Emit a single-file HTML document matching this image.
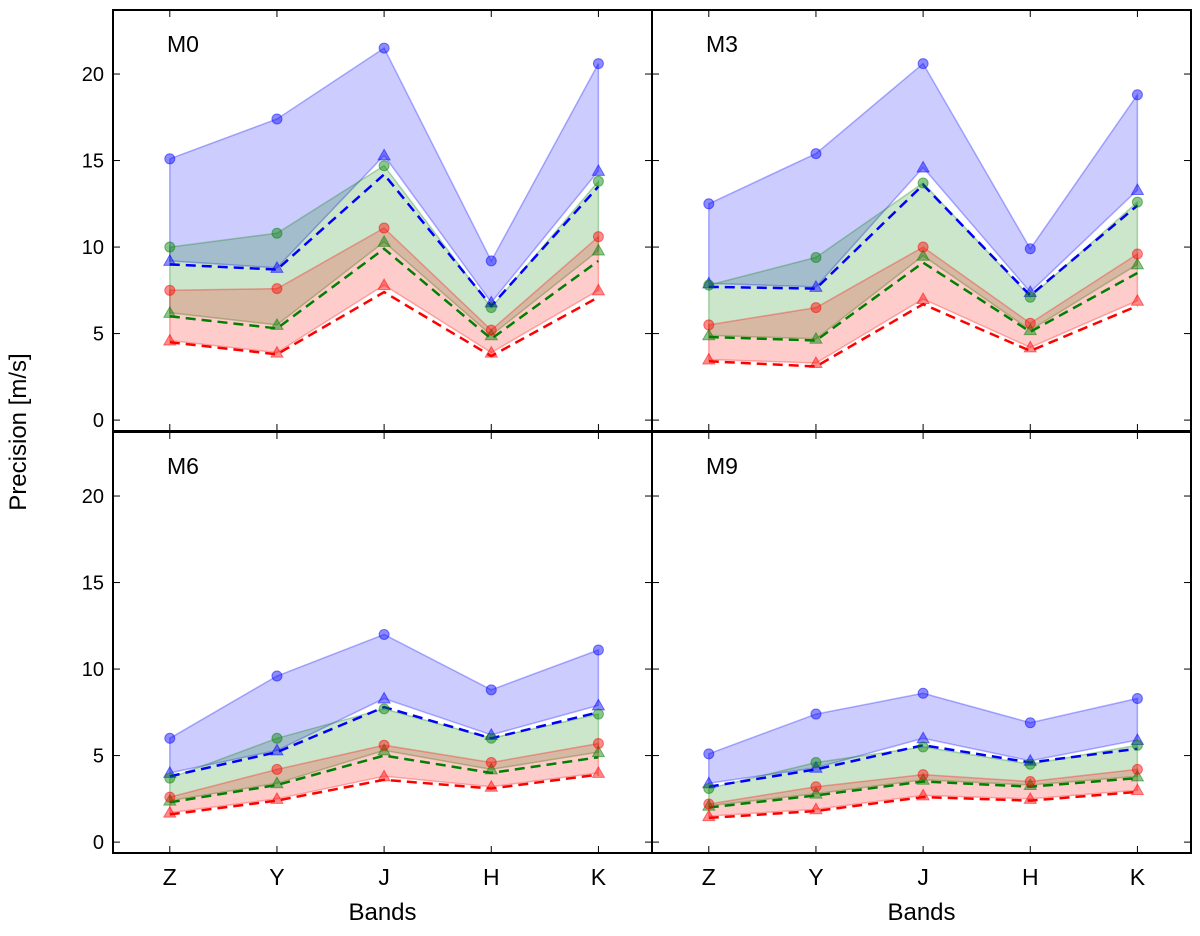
<!DOCTYPE html>
<html><head><meta charset="utf-8"><style>
body{margin:0;background:#fff}
svg text{font-family:"Liberation Sans",sans-serif;fill:#000}
</style></head><body>
<svg id="chart" width="1200" height="931" viewBox="0 0 1200 931" xmlns="http://www.w3.org/2000/svg"></svg>
<script>
const bands = ["Z","Y","J","H","K"];
const yTicks = [0,5,10,15,20];
const panelNames = ["M0","M3","M6","M9"];
const blueCirc = [[15.1,17.4,21.5,9.2,20.6],[12.5,15.4,20.6,9.9,18.8],[6.0,9.6,12.0,8.8,11.1],[5.1,7.4,8.6,6.9,8.3]];
const blueTri  = [[9.2,8.8,15.3,6.8,14.4],[7.9,7.7,14.6,7.4,13.3],[4.0,5.3,8.3,6.2,7.9],[3.4,4.3,6.0,4.7,5.9]];
const blueDash = [[9.0,8.7,14.2,6.6,13.5],[7.7,7.6,13.6,7.2,12.4],[3.8,5.2,7.8,6.0,7.5],[3.2,4.2,5.6,4.6,5.4]];
const greenCirc= [[10.0,10.8,14.7,6.5,13.8],[7.8,9.4,13.7,7.1,12.6],[3.7,6.0,7.7,6.0,7.4],[3.1,4.6,5.5,4.5,5.6]];
const greenTri = [[6.2,5.5,10.3,4.9,9.8],[4.9,4.7,9.5,5.2,9.0],[2.4,3.4,5.3,4.2,5.2],[2.1,2.8,3.6,3.3,3.8]];
const greenDash= [[6.0,5.3,9.9,4.7,9.2],[4.8,4.6,9.1,5.1,8.5],[2.3,3.3,5.0,4.0,4.9],[2.0,2.7,3.5,3.2,3.7]];
const redCirc  = [[7.5,7.6,11.1,5.2,10.6],[5.5,6.5,10.0,5.6,9.6],[2.6,4.2,5.6,4.6,5.7],[2.2,3.2,3.9,3.5,4.2]];
const redTri   = [[4.6,3.9,7.8,3.9,7.5],[3.5,3.3,7.0,4.2,6.9],[1.7,2.5,3.8,3.2,4.0],[1.5,1.9,2.7,2.5,3.0]];
const redDash  = [[4.5,3.8,7.4,3.7,7.1],[3.4,3.1,6.7,4.0,6.6],[1.6,2.4,3.6,3.1,3.9],[1.4,1.8,2.6,2.4,2.9]];

const NS="http://www.w3.org/2000/svg";
const svg=document.getElementById('chart');
function mk(tag,attrs,parent){const e=document.createElementNS(NS,tag);for(const k in attrs)e.setAttribute(k,attrs[k]);(parent||svg).appendChild(e);return e;}
const PX=[113,652], PW=539, PY=[10,432], PH=421;
const XMIN=-0.53, XMAX=4.5, YMIN=-0.63, YMAX=23.7;
const cols={b:"#0000ff",g:"#008000",r:"#ff0000"};

panelNames.forEach((nm,p)=>{
  const ox=PX[p%2], oy=PY[Math.floor(p/2)];
  const g=mk('g',{});
  
  
  const sx=i=>ox+(i-XMIN)/(XMAX-XMIN)*PW;
  const sy=v=>oy+PH-(v-YMIN)/(YMAX-YMIN)*PH;
  const pts=a=>a.map((v,i)=>sx(i).toFixed(1)+','+sy(v).toFixed(1));
  function fill(top,bot,c,name){
    const poly=mk('polygon',{points:pts(top).concat(pts(bot).reverse()).join(' '),fill:c,'fill-opacity':0.2,stroke:c,'stroke-opacity':0.3,'stroke-width':1.5},g);
    
    
  }
  fill(blueCirc[p],blueTri[p],cols.b,'blue-band');
  fill(greenCirc[p],greenTri[p],cols.g,'green-band');
  fill(redCirc[p],redTri[p],cols.r,'red-band');
  function dash(a,c,name){
    const l=mk('polyline',{points:pts(a).join(' '),fill:'none',stroke:c,'stroke-width':2.5,'stroke-dasharray':'10,6'},g);
    
    
  }
  dash(blueDash[p],cols.b,'blue-dashed-line');
  dash(greenDash[p],cols.g,'green-dashed-line');
  dash(redDash[p],cols.r,'red-dashed-line');
  function circles(a,c,name){
    a.forEach((v,i)=>{const e=mk('circle',{cx:sx(i),cy:sy(v),r:5,fill:c,'fill-opacity':0.45,stroke:c,'stroke-opacity':0.5,'stroke-width':1},g);
      
      });
  }
  function tris(a,c,name){
    a.forEach((v,i)=>{const x=sx(i),y=sy(v);
      const e=mk('polygon',{points:`${x},${y-6} ${x-6},${y+4.5} ${x+6},${y+4.5}`,fill:c,'fill-opacity':0.45,stroke:c,'stroke-opacity':0.5,'stroke-width':1},g);
      
      });
  }
  circles(blueCirc[p],cols.b,'blue-circle-point'); tris(blueTri[p],cols.b,'blue-triangle-point');
  circles(greenCirc[p],cols.g,'green-circle-point'); tris(greenTri[p],cols.g,'green-triangle-point');
  circles(redCirc[p],cols.r,'red-circle-point'); tris(redTri[p],cols.r,'red-triangle-point');
  // frame
  const fr=mk('rect',{x:ox,y:oy,width:PW,height:PH,fill:'none',stroke:'#000','stroke-width':2},g);
  
  
  // ticks
  bands.forEach((b,i)=>{
    mk('line',{x1:sx(i),x2:sx(i),y1:oy+PH,y2:oy+PH-7,stroke:'#000','stroke-width':1},g);
    mk('line',{x1:sx(i),x2:sx(i),y1:oy,y2:oy+7,stroke:'#000','stroke-width':1},g);
    if(p>=2){const t=mk('text',{x:sx(i),y:oy+PH+32,'text-anchor':'middle','font-size':23},g);t.textContent=b;
      
      }
  });
  yTicks.forEach(v=>{
    mk('line',{x1:ox,x2:ox+7,y1:sy(v),y2:sy(v),stroke:'#000','stroke-width':1},g);
    mk('line',{x1:ox+PW,x2:ox+PW-7,y1:sy(v),y2:sy(v),stroke:'#000','stroke-width':1},g);
    if(p%2===0){const t=mk('text',{x:ox-9,y:sy(v)+7,'text-anchor':'end','font-size':20},g);t.textContent=v;
      
      }
  });
  const lab=mk('text',{x:ox+54,y:oy+42,'font-size':23},g);lab.textContent=nm;
  
  
  if(p>=2){const xl=mk('text',{x:ox+PW/2,y:920,'text-anchor':'middle','font-size':24},g);xl.textContent='Bands';
    
    }
});
const yl=mk('text',{x:0,y:0,'text-anchor':'middle','font-size':24,transform:'translate(26,432) rotate(-90)'});
yl.textContent='Precision [m/s]';


</script>
</body></html>
